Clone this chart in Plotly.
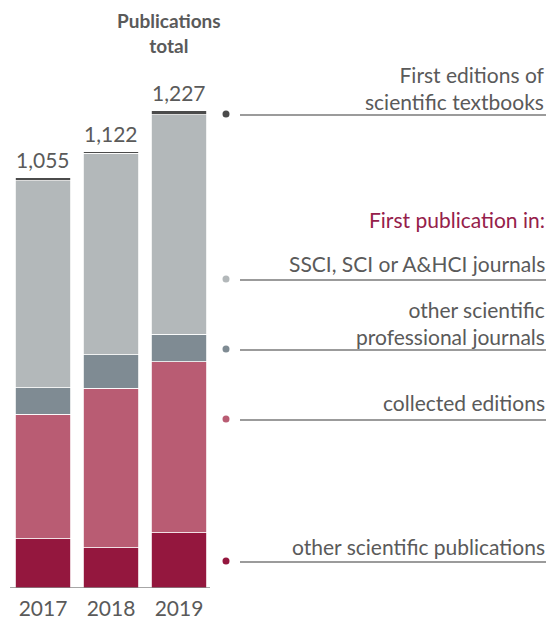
import plotly.graph_objects as go

years = ["2017", "2018", "2019"]
other_pubs = [126, 104, 142]
collected = [321, 409, 439]
prof_journals = [68, 86, 71]
ssci = [532, 518, 564]
textbooks = [8, 5, 11]
totals = [1055, 1122, 1227]

series = [
    ("other scientific publications", other_pubs, "#94173e"),
    ("collected editions", collected, "#b95c73"),
    ("other scientific professional journals", prof_journals, "#7f8b93"),
    ("SSCI, SCI or A&HCI journals", ssci, "#b3b8ba"),
    ("First editions of scientific textbooks", textbooks, "#4b4b4b"),
]

OFF = 8  # page body margin
W, H = 556 - OFF, 622 - OFF
BOT = 34
PH = H - BOT  # plot area height in px


def py(p):  # page pixel y -> paper y
    return (PH - (p - OFF)) / PH


def px(p):  # page pixel x -> paper x
    return (p - OFF) / W


fig = go.Figure()
for name, vals, col in series:
    fig.add_trace(go.Bar(
        x=years, y=vals, name=name, marker=dict(color=col, line=dict(color="white", width=0.8)),
        width=0.82, hoverinfo="skip",
    ))

TXT = "#5a5a5a"
FONT = "Lato"
ann = []
for i, t in enumerate(totals):
    ann.append(dict(x=i, y=t, xref="x", yref="y", text=f"{t:,}", showarrow=False,
                    yanchor="bottom", yshift=4, font=dict(size=21, color=TXT, family=FONT)))

ann.append(dict(x=px(116), y=1, xref="paper", yref="paper", text="<b>Publications<br>total</b>",
                showarrow=False, font=dict(size=19, color=TXT, family=FONT), yanchor="top",
                borderpad=0))

labels = [
    ("First editions of<br>scientific textbooks", 88, 114, "#4b4b4b"),
    ("SSCI, SCI or A&HCI journals", 263, 279, "#b3b8ba"),
    ("other scientific<br>professional journals", 323, 349, "#7f8b93"),
    ("collected editions", 402, 419, "#b95c73"),
    ("other scientific publications", 546, 561, "#94173e"),
]
shapes = []
for text, ty, ly, col in labels:
    ann.append(dict(x=px(547), y=py(ty), xref="paper", yref="paper", text=text, showarrow=False,
                    xanchor="right", yanchor="middle", align="right",
                    font=dict(size=21, color=TXT, family=FONT)))
    shapes.append(dict(type="line", xref="paper", yref="paper", x0=px(240), x1=px(546),
                       y0=py(ly + 1), y1=py(ly + 1), line=dict(color="#7a7a7a", width=1.5)))
    shapes.append(dict(type="circle", xref="paper", yref="paper", xsizemode="pixel", ysizemode="pixel",
                       xanchor=px(226), yanchor=py(ly), x0=-3.5, x1=3.5, y0=-3.5, y1=3.5,
                       fillcolor=col, line=dict(width=0)))

ann.append(dict(x=px(547), y=py(220), xref="paper", yref="paper", text="First publication in:",
                showarrow=False, xanchor="right", yanchor="middle",
                font=dict(size=21, color="#95204a", family=FONT)))

# baseline
shapes.append(dict(type="line", xref="x", yref="y", x0=-0.485, x1=2.456, y0=0, y1=0,
                   line=dict(color="#888888", width=1.5)))

fig.update_layout(
    width=W, height=H, barmode="stack", showlegend=False,
    margin=dict(l=0, r=0, t=0, b=BOT), plot_bgcolor="white", paper_bgcolor="white",
    xaxis=dict(type="category", range=[-0.515, 7.544], showgrid=False, zeroline=False, showline=False,
               tickfont=dict(size=21, color=TXT, family=FONT), ticks="", ticklabelstandoff=6,
               fixedrange=True),
    yaxis=dict(range=[0, PH / 0.389], visible=False, fixedrange=True),
    annotations=ann, shapes=shapes,
)
fig.write_html("out.html")
